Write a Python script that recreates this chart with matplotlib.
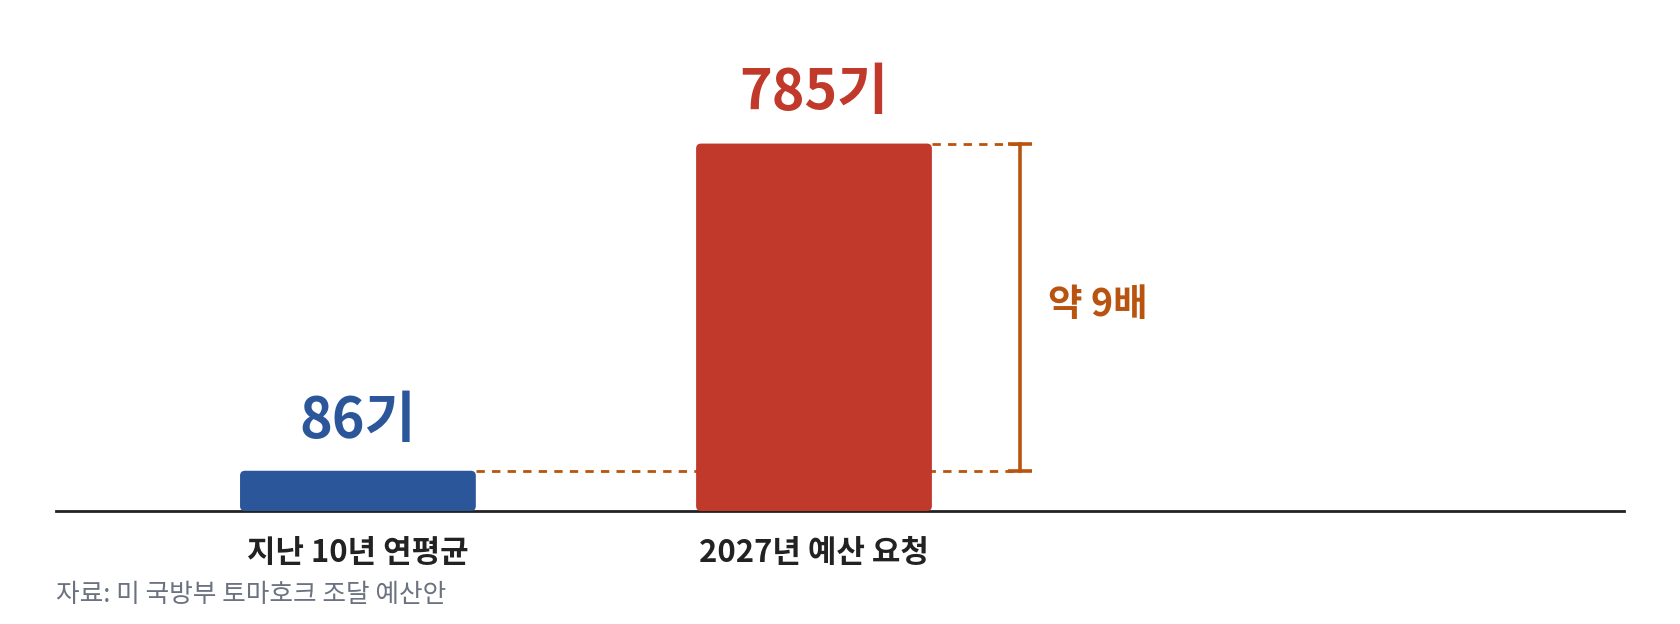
import matplotlib
matplotlib.use("Agg")
import matplotlib.pyplot as plt
from matplotlib.patches import FancyBboxPatch

plt.rcParams["font.family"] = ["Noto Sans CJK KR", "DejaVu Sans"]

# 데이터
categories = ["지난 10년 연평균", "2027년 예산 요청"]
values = [86, 785]
value_labels = ["86기", "785기"]
bar_colors = ["#2B579A", "#C0392B"]
ratio_label = "약 9배"
source = "자료: 미 국방부 토마호크 조달 예산안"

accent = "#B8540F"
W, H = 1680, 624

fig = plt.figure(figsize=(W / 100, H / 100), dpi=100)
ax = fig.add_axes([56 / W, (H - 511) / H, (1624 - 56) / W, (511 - 20) / H])
ax.set_xlim(-0.662, 2.776)
ax.set_ylim(0, 1049)

x = list(range(len(categories)))
bars = ax.bar(x, values, width=0.517, color=bar_colors, zorder=3)

# 막대를 둥근 모서리로 교체
px_x = (1624 - 56) / (2.776 + 0.662)
px_y = (511 - 20) / 1049
for b, c in zip(bars, bar_colors):
    bx, by, bw, bh = b.get_x(), b.get_y(), b.get_width(), b.get_height()
    b.remove()
    ax.add_patch(FancyBboxPatch((bx, by), bw, bh,
                                boxstyle=f"round,pad=0,rounding_size={5 / px_x}",
                                mutation_aspect=px_x / px_y,
                                facecolor=c, edgecolor="none", zorder=3))

# 값 라벨
for xi, v, lab, c in zip(x, values, value_labels, bar_colors):
    ax.annotate(lab, (xi, v), xytext=(0, 16), textcoords="offset points",
                ha="center", va="bottom", fontsize=40, fontweight="heavy", color=c)

# 비교 브래킷
bx_pos = x[1] + 0.452
half_w = 0.517 / 2
ax.plot([x[0] + half_w, bx_pos], [values[0]] * 2, color=accent, lw=2,
        ls=(0, (3, 2.6)), zorder=2)
ax.plot([x[1] + half_w, bx_pos], [values[1]] * 2, color=accent, lw=2,
        ls=(0, (3, 2.6)), zorder=2)
ax.plot([bx_pos, bx_pos], values, color=accent, lw=2.6, zorder=4)
for v in values:
    ax.plot([bx_pos - 0.027, bx_pos + 0.027], [v, v], color=accent, lw=2.6,
            solid_capstyle="butt", zorder=4)
ax.text(bx_pos + 0.062, sum(values) / 2 + 6, ratio_label, ha="left", va="center",
        fontsize=27, fontweight="heavy", color=accent)

# 축 정리
for s in ["top", "right", "left"]:
    ax.spines[s].set_visible(False)
ax.spines["bottom"].set_color("#222222")
ax.spines["bottom"].set_linewidth(2)
ax.set_yticks([])
ax.set_xticks(x, categories)
ax.tick_params(axis="x", length=0, pad=18.5, labelsize=22.3, labelcolor="#222222")
for t in ax.get_xticklabels():
    t.set_fontweight("bold")

fig.text(56 / W, 1 - 595 / H, source, ha="left", va="center",
         fontsize=18.5, color="#6B7280")

fig.savefig("out.png", dpi=100)
